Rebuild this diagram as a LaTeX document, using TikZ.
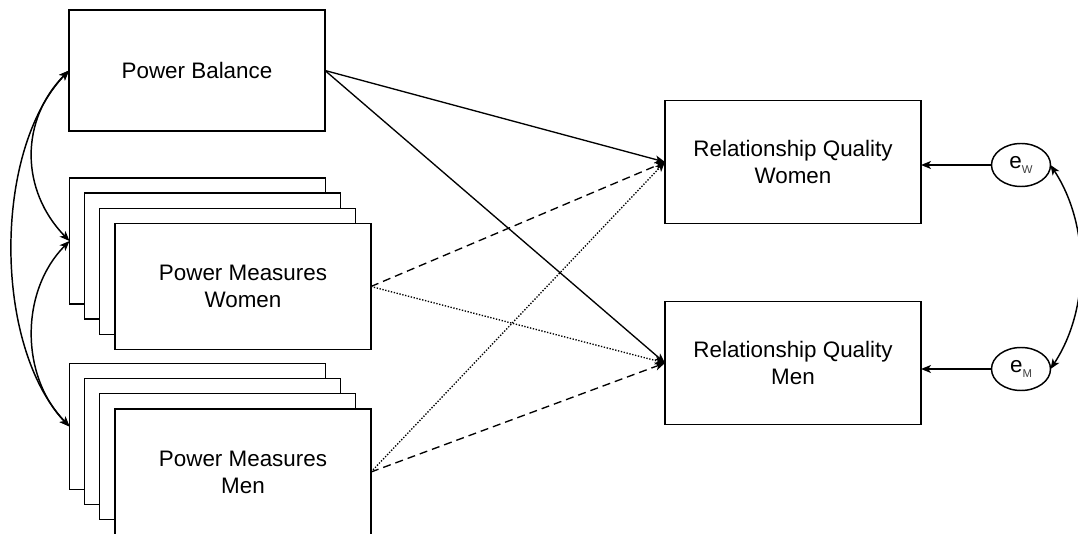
\documentclass[tikz,border=0pt]{standalone}
\usepackage{fontspec}
\setmainfont{Liberation Sans}
\usetikzlibrary{arrows.meta,shapes.geometric}
\begin{document}
\begin{tikzpicture}[x=0.75pt,y=-0.75pt,
  box/.style={draw,fill=white,line width=1.1pt,inner sep=0pt,outer sep=0pt,
    minimum width=192pt,align=center,font=\fontsize{16.8}{20.25}\selectfont},
  pbbox/.style={box,minimum height=90.75pt},
  layer/.style={box,minimum height=94.5pt},
  rqbox/.style={box,minimum height=92pt},
  err/.style={draw,ellipse,line width=1.1pt,inner sep=0pt,outer sep=0pt,
    minimum width=44.25pt,minimum height=32.25pt,font=\fontsize{16.8}{20}\selectfont},
  tip/.style={-{Stealth[length=7.5pt,width=6pt,inset=2pt]}},
  dtip/.style={{Stealth[length=7.5pt,width=6pt,inset=2pt]}-{Stealth[length=7.5pt,width=6pt,inset=2pt]}},
  path/.style={line width=1pt,tip},
  dashedpath/.style={path,dash pattern=on 6pt off 3.75pt},
  dottedpath/.style={path,dash pattern=on 1pt off 1.2pt},
]
\useasboundingbox (0,0) rectangle (1078,534);
\fill[white] (0,0) rectangle (1078,534);

\node[pbbox] (pb) at (197,70.5) {Power Balance};

\node[layer] (pmw1) at (197.5,241) {};
\node[layer] (pmw2) at (212.5,256) {};
\node[layer] (pmw3) at (227.5,271.5) {};
\node[layer] (pmw) at (243,286.5) {Power Measures\\Women};

\node[layer] (pmm1) at (197.5,426.5) {};
\node[layer] (pmm2) at (212.5,441.5) {};
\node[layer] (pmm3) at (227.5,456.5) {};
\node[layer] (pmm) at (243,472) {Power Measures\\Men};

\node[rqbox] (rqw) at (793,162) {Relationship Quality\\Women};
\node[rqbox] (rqm) at (793,363) {Relationship Quality\\Men};

\node[err] (ew) at (1021,165) {e\raisebox{-0.35ex}{\fontsize{8.5}{9}\selectfont\color{black!75}W}};
\node[err] (em) at (1021,369) {e\raisebox{-0.35ex}{\fontsize{8.5}{9}\selectfont\color{black!75}M}};

% paths to outcomes
\draw[path] (pb.east) -- (rqw.west);
\draw[path] (pb.east) -- (rqm.west);
\draw[dashedpath] (pmw.east) -- (rqw.west);
\draw[dottedpath] (pmw.east) -- (rqm.west);
\draw[dottedpath] (pmm.east) -- (rqw.west);
\draw[dashedpath] (pmm.east) -- (rqm.west);

% errors
\draw[path,line width=1.1pt] (ew.west) -- (rqw.east |- ew.west);
\draw[path,line width=1.1pt] (em.west) -- (rqm.east |- em.west);
\draw[line width=1.1pt,dtip] (ew.east) .. controls (1090,225) and (1090,309) .. (em.east);

% covariances
\draw[line width=1.1pt,dtip] (pb.west) .. controls (20,120) and (20,190) .. (pmw1.west);
\draw[line width=1.1pt,dtip] (pmw1.west) .. controls (20,291) and (20,376) .. (pmm1.west);
\draw[line width=1.1pt,dtip] (pb.west) .. controls (-7,150) and (-7,346) .. (pmm1.west);
\end{tikzpicture}
\end{document}
